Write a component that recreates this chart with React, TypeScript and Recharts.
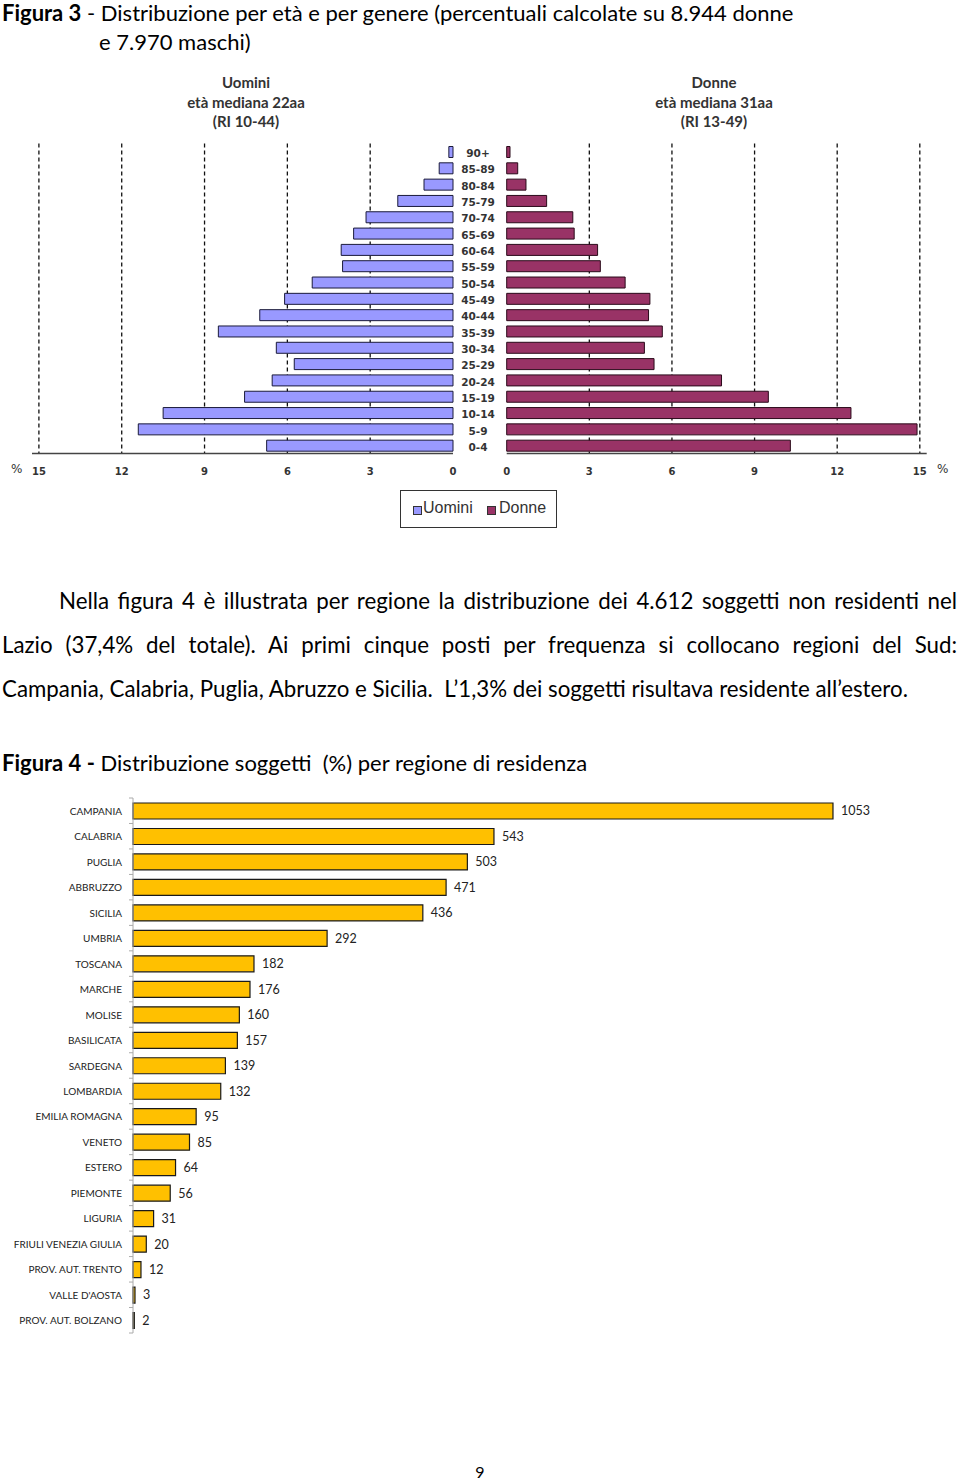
import React from 'react';
import { BarChart, Bar, XAxis, YAxis, CartesianGrid, LabelList } from 'recharts';

// ---- Figure 3 data (percentuali) ----
const ageGroups = ['90+', '85-89', '80-84', '75-79', '70-74', '65-69', '60-64', '55-59', '50-54', '45-49', '40-44', '35-39', '30-34', '25-29', '20-24', '15-19', '10-14', '5-9', '0-4'];
const uominiPct = [0.15, 0.5, 1.05, 2.0, 3.15, 3.6, 4.05, 4.0, 5.1, 6.1, 7.0, 8.5, 6.4, 5.75, 6.55, 7.55, 10.5, 11.4, 6.75];
const donnePct = [0.12, 0.4, 0.7, 1.45, 2.4, 2.45, 3.3, 3.4, 4.3, 5.2, 5.15, 5.65, 5.0, 5.35, 7.8, 9.5, 12.5, 14.9, 10.3];
const pctTicks = [0, 3, 6, 9, 12, 15];
const gridValues = [3, 6, 9, 12, 15];

// ---- Figure 4 data (numero soggetti per regione) ----
const regioni = ['CAMPANIA', 'CALABRIA', 'PUGLIA', 'ABBRUZZO', 'SICILIA', 'UMBRIA', 'TOSCANA', 'MARCHE', 'MOLISE', 'BASILICATA', 'SARDEGNA', 'LOMBARDIA', 'EMILIA ROMAGNA', 'VENETO', 'ESTERO', 'PIEMONTE', 'LIGURIA', 'FRIULI VENEZIA GIULIA', 'PROV. AUT. TRENTO', "VALLE D'AOSTA", 'PROV. AUT. BOLZANO'];
const soggetti = [1053, 543, 503, 471, 436, 292, 182, 176, 160, 157, 139, 132, 95, 85, 64, 56, 31, 20, 12, 3, 2];

const pyramidData = ageGroups.map((age, i) => ({ age, uomini: uominiPct[i], donne: donnePct[i] }));
const regionData = regioni.map((regione, i) => ({ regione, value: soggetti[i] }));

const BLUE = '#9999FF';
const PLUM = '#993366';
const GOLD = '#FFC000';

const PctTick = (p: any) => (
  <text x={p.x} y={p.y} textAnchor="middle" dominantBaseline="central" fontFamily="DejaVu Sans" fontWeight="bold" fontSize={10} fill="#333">
    {p.payload.value}
  </text>
);

const AgeTick = (p: any) => (
  <text x={p.x} y={p.y + 1.5} textAnchor="middle" dominantBaseline="central" fontFamily="DejaVu Sans" fontWeight="bold" fontSize={10.5} fill="#333">
    {p.payload.value}
  </text>
);

const RegionTick = (p: any) => {
  const ax = p.x + 11;
  const half = p.payload && p.payload.offset ? p.payload.offset : 535 / 21 / 2;
  const last = p.index === (p.visibleTicksCount ?? regioni.length) - 1;
  return (
    <g>
      <text x={p.x} y={p.y} textAnchor="end" dominantBaseline="central" fontFamily="Lato" fontSize={10} fill="#222">
        {p.payload.value}
      </text>
      <line x1={ax - 4} x2={ax} y1={p.y - half} y2={p.y - half} stroke="#aaa" />
      {last && <line x1={ax - 4} x2={ax} y1={p.y + half} y2={p.y + half} stroke="#aaa" />}
    </g>
  );
};

const abs = (left: number, top: number, extra: React.CSSProperties = {}): React.CSSProperties => ({
  position: 'absolute',
  left,
  top,
  ...extra,
});

export default function App() {
  const titleFont: React.CSSProperties = { fontFamily: 'Lato', fontSize: 22, lineHeight: '29px', color: '#000', whiteSpace: 'pre' };
  const paraFont: React.CSSProperties = { fontFamily: 'Lato', fontSize: 22.3, lineHeight: '44px', color: '#000', whiteSpace: 'nowrap' };
  const headFont: React.CSSProperties = { fontFamily: 'Lato', fontWeight: 'bold', fontSize: 15, lineHeight: '19.5px', color: '#333', textAlign: 'center', width: 240 };
  return (
    <div style={{ position: 'absolute', left: 0, top: 0, width: 960, height: 1482, background: '#fff', overflow: 'hidden' }}>
      {/* Figure 3 title */}
      <div style={abs(2, -2, titleFont)}>
        <b>Figura 3</b> - Distribuzione per età e per genere (percentuali calcolate su 8.944 donne
      </div>
      <div style={abs(99, 27, titleFont)}>e 7.970 maschi)</div>

      {/* Pyramid headers */}
      <div style={abs(126, 73, headFont)}>
        Uomini
        <br />
        età mediana 22aa
        <br />
        (RI 10-44)
      </div>
      <div style={abs(594, 73, headFont)}>
        Donne
        <br />
        età mediana 31aa
        <br />
        (RI 13-49)
      </div>

      {/* Left: Uomini */}
      <div style={abs(0, 140)}>
        <BarChart width={507} height={360} layout="vertical" data={pyramidData} margin={{ top: 3.5, right: 0, bottom: 16.5, left: 32 }} barSize={11}>
          <CartesianGrid vertical horizontal={false} stroke="#111" strokeWidth={1.3} strokeDasharray="4 3" verticalValues={gridValues} />
          <XAxis type="number" domain={[0, 15.25]} reversed ticks={pctTicks} tick={PctTick} tickLine={false} tickSize={0} tickMargin={17.5} axisLine={{ stroke: '#444', strokeWidth: 1.3 }} height={30} interval={0} />
          <YAxis type="category" dataKey="age" orientation="right" width={54} axisLine={false} tickLine={false} tickSize={0} tickMargin={25} tick={AgeTick} interval={0} />
          <Bar dataKey="uomini" fill={BLUE} stroke="#1a1a3a" strokeWidth={1} barSize={11} isAnimationActive={false} />
        </BarChart>
      </div>

      {/* Right: Donne */}
      <div style={abs(490, 140)}>
        <BarChart width={470} height={360} layout="vertical" data={pyramidData} margin={{ top: 3.5, right: 33.3, bottom: 16.5, left: 16.7 }} barSize={11}>
          <CartesianGrid vertical horizontal={false} stroke="#111" strokeWidth={1.3} strokeDasharray="4 3" verticalValues={gridValues} />
          <XAxis type="number" domain={[0, 15.25]} ticks={pctTicks} tick={PctTick} tickLine={false} tickSize={0} tickMargin={17.5} axisLine={{ stroke: '#444', strokeWidth: 1.3 }} height={30} interval={0} />
          <YAxis type="category" dataKey="age" hide />
          <Bar dataKey="donne" fill={PLUM} stroke="#2a0a1a" strokeWidth={1} barSize={11} isAnimationActive={false} />
        </BarChart>
      </div>

      <div style={abs(11, 460, { fontFamily: 'DejaVu Sans', fontSize: 12, lineHeight: '18px', color: '#333' })}>%</div>
      <div style={abs(937, 460, { fontFamily: 'DejaVu Sans', fontSize: 12, lineHeight: '18px', color: '#333' })}>%</div>

      {/* Legend */}
      <div style={abs(400, 490, { width: 155, height: 36, border: '1px solid #333', boxSizing: 'content-box', fontFamily: 'Liberation Sans', fontSize: 16, color: '#333' })}>
        <div style={abs(12, 15, { width: 7, height: 7, background: BLUE, border: '1px solid #333' })} />
        <div style={abs(22, 7, { lineHeight: '20px' })}>Uomini</div>
        <div style={abs(86, 15, { width: 7, height: 7, background: PLUM, border: '1px solid #333' })} />
        <div style={abs(98, 7, { lineHeight: '20px' })}>Donne</div>
      </div>

      {/* Paragraph */}
      <div style={abs(59, 579, { ...paraFont, width: 898, textAlign: 'justify', textAlignLast: 'justify', whiteSpace: 'normal' })}>
        Nella figura 4 è illustrata per regione la distribuzione dei 4.612 soggetti non residenti nel
      </div>
      <div style={abs(2, 623, { ...paraFont, width: 955, textAlign: 'justify', textAlignLast: 'justify', whiteSpace: 'normal' })}>
        Lazio (37,4% del totale). Ai primi cinque posti per frequenza si collocano regioni del Sud:
      </div>
      <div style={abs(2, 667, { ...paraFont, whiteSpace: 'pre' })}>
        {'Campania, Calabria, Puglia, Abruzzo e Sicilia.  L\u20191,3% dei soggetti risultava residente all\u2019estero.'}
      </div>

      {/* Figure 4 title */}
      <div style={abs(2, 747.5, titleFont)}>
        <b>Figura 4 -</b> Distribuzione soggetti  (%) per regione di residenza
      </div>

      {/* Figure 4 chart */}
      <div style={abs(0, 790)}>
        <BarChart width={960} height={553} layout="vertical" data={regionData} margin={{ top: 8, right: 29.3, bottom: 10, left: 0 }} barSize={16}>
          <XAxis type="number" domain={[0, 1200]} hide />
          <YAxis type="category" dataKey="regione" width={133} axisLine={{ stroke: '#aaa' }} tickLine={false} tickSize={5} tickMargin={6} tick={RegionTick} interval={0} />
          <Bar dataKey="value" fill={GOLD} stroke="#1a1a1a" strokeWidth={1.2} barSize={16} isAnimationActive={false}>
            <LabelList dataKey="value" position="right" offset={8} fill="#222" fontSize={12.5} fontFamily="Lato" />
          </Bar>
        </BarChart>
      </div>

      {/* Page number */}
      <div style={abs(470, 1461, { width: 20, textAlign: 'center', fontFamily: 'Lato', fontSize: 16, lineHeight: '22px', color: '#000' })}>9</div>
    </div>
  );
}
